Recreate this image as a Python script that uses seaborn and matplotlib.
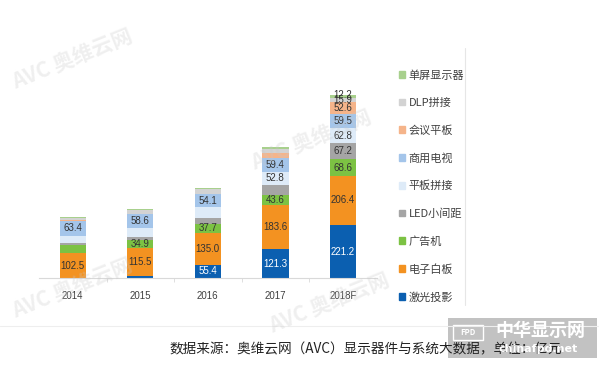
import numpy as np
import pandas as pd
import seaborn as sns
import matplotlib.pyplot as plt
from matplotlib.patches import Patch, Rectangle

# values, 亿元
years = ['2014', '2015', '2016', '2017', '2018F']
series = ['激光投影', '电子白板', '广告机', 'LED小间距', '平板拼接',
          '商用电视', '会议平板', 'DLP拼接', '单屏显示器']
laser = [1.0, 8.0, 55.4, 121.3, 221.2]
whiteboard = [102.5, 115.5, 135.0, 183.6, 206.4]
ad_player = [36.0, 34.9, 37.7, 43.6, 68.6]
led = [6.0, 12.0, 24.0, 42.0, 67.2]
splice_flat = [30.0, 38.0, 44.0, 52.8, 62.8]
commercial_tv = [63.4, 58.6, 54.1, 59.4, 59.5]
meeting = [2.0, 2.0, 3.0, 20.0, 52.6]
dlp = [12.0, 15.0, 18.0, 16.0, 15.9]
single = [4.0, 5.0, 6.0, 8.0, 12.2]
# which segments carry a printed value
shown = {
    '激光投影': [0, 0, 1, 1, 1],
    '电子白板': [1, 1, 1, 1, 1],
    '广告机': [0, 1, 1, 1, 1],
    'LED小间距': [0, 0, 0, 0, 1],
    '平板拼接': [0, 0, 0, 1, 1],
    '商用电视': [1, 1, 1, 1, 1],
    '会议平板': [0, 0, 0, 0, 1],
    'DLP拼接': [0, 0, 0, 0, 1],
    '单屏显示器': [0, 0, 0, 0, 1],
}
colors = ['#0b5fb0', '#f39221', '#7cc243', '#a5a5a5', '#deebf8',
          '#a4c5ea', '#f5b48a', '#d3d3d3', '#a8d08d']

values = [laser, whiteboard, ad_player, led, splice_flat,
          commercial_tv, meeting, dlp, single]
df = pd.DataFrame(dict(zip(series, values)), index=years)

sns.set_style('white')
plt.rcParams['font.family'] = ['Noto Sans CJK SC', 'DejaVu Sans']

fig = plt.figure(figsize=(5.99, 3.69), dpi=100)
ax = fig.add_axes([0.065, 0.2466, 0.564, 0.518])

bottom = np.zeros(len(years))
for name, c in zip(series, colors):
    sns.barplot(x=years, y=df[name].values, bottom=bottom, color=c,
                width=0.39, errorbar=None, ax=ax, linewidth=0, saturation=1)
    cont = ax.containers[-1]
    labs = [f'{v:.1f}' if s else '' for v, s in zip(df[name], shown[name])]
    tc = 'white' if name == '激光投影' else '#333333'
    if name == '单屏显示器':
        # top label sits just over the bar, as in the source
        ax.bar_label(cont, labels=labs, label_type='edge', padding=-4,
                     fontsize=7, color=tc, family='Liberation Sans')
    else:
        ax.bar_label(cont, labels=labs, label_type='center', fontsize=7,
                     color=tc, family='Liberation Sans')
    bottom = bottom + df[name].values

ax.set_xlim(-0.5, 4.5)
ax.set_ylim(0, 800)
ax.set_yticks([])
ax.set_ylabel('')
for s in ['top', 'right', 'left']:
    ax.spines[s].set_visible(False)
ax.spines['bottom'].set_color('#d9d9d9')
ax.set_xticks(np.arange(0.5, 4.5, 1), minor=True)
ax.tick_params(axis='x', which='major', length=0, pad=9, labelsize=7,
               labelcolor='#404040')
ax.tick_params(axis='x', which='minor', length=3, color='#d9d9d9',
               bottom=True)
for t in ax.get_xticklabels():
    t.set_family('Liberation Sans')

handles = [Patch(color=c, label=n) for n, c in zip(series, colors)][::-1]
leg = fig.legend(handles=handles, loc='upper left',
                 bbox_to_anchor=(389 / 599, 1 - 60 / 369), frameon=False,
                 fontsize=8, handlelength=0.55, handleheight=0.55,
                 handletextpad=0.3, labelspacing=1.55)
for t in leg.get_texts():
    t.set_color('#404040')

# frame lines of the screenshot
fig.add_artist(plt.Line2D([465 / 599, 465 / 599], [1 - 48 / 369, 1 - 305 / 369],
                          color='#e6e6e6', lw=0.8))
fig.add_artist(plt.Line2D([0, 1], [1 - 326 / 369, 1 - 326 / 369],
                          color='#eeeeee', lw=0.8))

fig.text(0.61, 1 - 349 / 369, '数据来源：奥维云网（AVC）显示器件与系统大数据，单位：亿元',
         ha='center', va='center', fontsize=9.8, color='#222222')

# site stamp, bottom right
fig.add_artist(Rectangle((448 / 599, 1 - 358 / 369), 149 / 599, 40 / 369,
                         transform=fig.transFigure, color='#bdbdbd',
                         alpha=0.92, lw=0))
fig.add_artist(Rectangle((453 / 599, 1 - 340 / 369), 30 / 599, 15 / 369,
                         transform=fig.transFigure, fill=False,
                         edgecolor='white', lw=1))
fig.text(468 / 599, 1 - 332.5 / 369, 'FPD', ha='center', va='center',
         fontsize=5.5, color='white', weight='bold')
fig.text(540 / 599, 1 - 330 / 369, '中华显示网', ha='center', va='center',
         fontsize=13, color='white', weight='bold')
fig.text(538 / 599, 1 - 349 / 369, 'chinafpd.net', ha='center', va='center',
         fontsize=8, color='white', weight='bold', family='DejaVu Sans')

# faint logo stamps
for (x, y) in [(0.12, 0.84), (0.52, 0.62), (0.12, 0.22), (0.55, 0.18)]:
    fig.text(x, y, 'AVC 奥维云网', rotation=22, ha='center', va='center',
             fontsize=15, color='#c8c8c8', alpha=0.28, weight='bold')

fig.savefig('out.png', dpi=100)
